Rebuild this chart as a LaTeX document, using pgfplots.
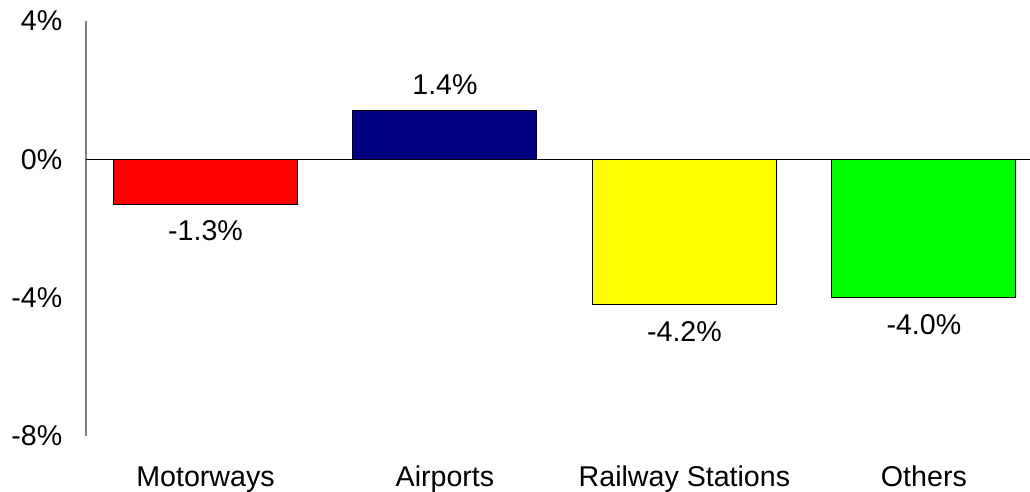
\documentclass[border=0pt]{standalone}
\usepackage{pgfplots}
\pgfplotsset{compat=1.18}
\usepackage{fontspec}
\setmainfont{Liberation Sans}
\definecolor{navyb}{RGB}{0,0,128}
\definecolor{greenb}{RGB}{0,255,0}
\definecolor{yellowb}{RGB}{255,255,0}
\definecolor{redb}{RGB}{255,0,0}
\newcommand{\cf}{\fontsize{14.3}{17}\selectfont}
\begin{document}
\begin{tikzpicture}
\useasboundingbox (-43pt,-28pt) rectangle (472pt,218pt);
\begin{axis}[
  at={(0,0)}, anchor=south west,
  scale only axis, width=472pt, height=207.5pt,
  xmin=-0.499, xmax=3.443, ymin=-8, ymax=4,
  axis lines=left,
  axis line style={-},
  x axis line style={draw=none},
  y axis line style={draw=gray, line width=0.8pt},
  xtick={0,1,2,3},
  xticklabels={Motorways,Airports,Railway Stations,Others},
  ytick={-8,-4,0,4},
  yticklabels={-8\%,-4\%,0\%,4\%},
  tick style={draw=none},
  major tick length=0pt,
  xticklabel style={font=\cf, anchor=base, inner sep=0pt, yshift=-25.3pt},
  yticklabel style={font=\cf, anchor=east, inner sep=0pt, xshift=-11.7pt},
  extra y ticks={0},
  extra y tick labels={},
  extra y tick style={grid=major, major grid style={black, line width=0.5pt}},
  clip=false,
]
\addplot[ybar, bar width=92pt, bar shift=0pt, fill=redb, draw=black, line width=0.5pt,
  point meta=explicit symbolic, nodes near coords,
  every node near coord/.append style={font=\cf, anchor=north, inner sep=0pt, yshift=-8pt}]
  coordinates {(0,-1.3) [-1.3\%]};
\addplot[ybar, bar width=92pt, bar shift=0pt, fill=navyb, draw=black, line width=0.5pt,
  point meta=explicit symbolic, nodes near coords,
  every node near coord/.append style={font=\cf, anchor=base, inner sep=0pt, yshift=8.2pt}]
  coordinates {(1,1.4) [1.4\%]};
\addplot[ybar, bar width=92pt, bar shift=0pt, fill=yellowb, draw=black, line width=0.5pt,
  point meta=explicit symbolic, nodes near coords,
  every node near coord/.append style={font=\cf, anchor=north, inner sep=0pt, yshift=-8pt}]
  coordinates {(2,-4.2) [-4.2\%]};
\addplot[ybar, bar width=92pt, bar shift=0pt, fill=greenb, draw=black, line width=0.5pt,
  point meta=explicit symbolic, nodes near coords,
  every node near coord/.append style={font=\cf, anchor=north, inner sep=0pt, yshift=-8pt}]
  coordinates {(3,-4.0) [-4.0\%]};
\end{axis}
\end{tikzpicture}
\end{document}
